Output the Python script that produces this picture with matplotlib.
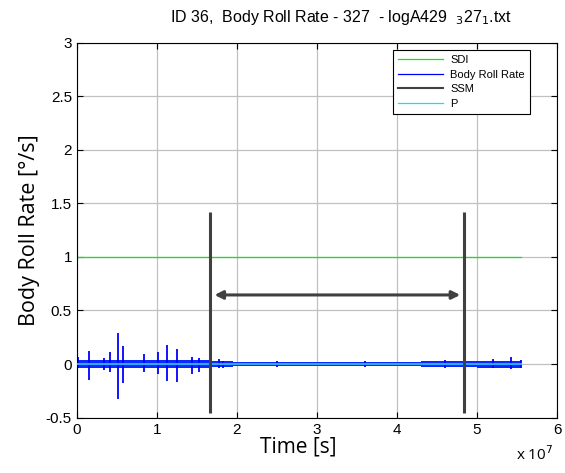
import matplotlib
matplotlib.use("Agg")
import matplotlib.pyplot as plt
import numpy as np

# ---- data ----
t_end = 5.55e7
sdi_level = 1.0
p_level = 0.0
ssm_times = [1.66e7, 4.84e7]
ssm_ymin, ssm_ymax = -0.46, 1.42
arrow_y = 0.645
arrow_x = [1.72e7, 4.79e7]

# spikes of the body roll rate signal: time, top, bottom
spike_t = [0.01e7, 0.15e7, 0.34e7, 0.42e7, 0.51e7, 0.58e7, 0.84e7, 1.01e7, 1.13e7,
           1.25e7, 1.44e7, 1.52e7, 1.77e7, 1.83e7, 2.5e7, 3.6e7, 4.6e7, 5.2e7, 5.43e7, 5.55e7]
spike_top = [0.07, 0.12, 0.06, 0.11, 0.29, 0.17, 0.09, 0.11, 0.18,
             0.14, 0.07, 0.06, 0.045, 0.03, 0.03, 0.03, 0.035, 0.045, 0.07, 0.035]
spike_bot = [-0.04, -0.15, -0.056, -0.07, -0.33, -0.18, -0.07, -0.09, -0.16,
             -0.165, -0.09, -0.07, -0.04, -0.035, -0.03, -0.03, -0.035, -0.035, -0.05, -0.04]

# background noise band: segment edges and half-width
band_edges = [0.0, 1.65e7, 1.95e7, 4.3e7, 5.0e7, 5.55e7]
band_half = [0.035, 0.028, 0.02, 0.025, 0.032]

xticks = [0, 1e7, 2e7, 3e7, 4e7, 5e7, 6e7]
xticklabels = ["0", "1", "2", "3", "4", "5", "6"]
yticks = [-0.5, 0, 0.5, 1, 1.5, 2, 2.5, 3]
yticklabels = ["-0.5", "0", "0.5", "1", "1.5", "2", "2.5", "3"]

plt.rcParams['font.family'] = ['Liberation Sans', 'DejaVu Sans']

fig = plt.figure(figsize=(5.65, 4.73), dpi=100)
ax = fig.add_axes([0.136, 0.117, 0.85, 0.793])

ax.set_xlim(0, 6e7)
ax.set_ylim(-0.5, 3)

ax.grid(True, color='#c0c0c0', linewidth=0.9, linestyle='-')
ax.set_axisbelow(True)

# SDI
ax.plot([0, t_end], [sdi_level, sdi_level], color='#00f000', linewidth=0.9, label='SDI')

# Body roll rate: band + spikes
for i in range(len(band_half)):
    ax.fill_between([band_edges[i], band_edges[i + 1]], -band_half[i], band_half[i],
                    color='#0a28ff', linewidth=0)
ax.vlines(spike_t, spike_bot, spike_top, color='#0000ff', linewidth=1.3)
ax.plot([], [], color='#0000ff', linewidth=0.9, label='Body Roll Rate')

# SSM
ax.vlines(ssm_times, ssm_ymin, ssm_ymax, color='#404040', linewidth=2.2, zorder=5)
ax.plot([], [], color='#404040', linewidth=1.5, label='SSM')
ax.annotate('', xy=(arrow_x[0], arrow_y), xytext=(arrow_x[1], arrow_y),
            arrowprops=dict(arrowstyle='<|-|>', color='#404040', lw=2.2,
                            mutation_scale=12, shrinkA=0, shrinkB=0), zorder=5)

# P
ax.plot([0, t_end], [p_level, p_level], color='#30a8ff', linewidth=1.5, zorder=4)
ax.plot([], [], color='#00e8ff', linewidth=0.9, label='P')

ax.set_xticks(xticks)
ax.set_xticklabels(xticklabels)
ax.set_yticks(yticks)
ax.set_yticklabels(yticklabels)
ax.tick_params(direction='in', top=True, right=True, labelsize=11, length=4, width=0.8)
for s in ax.spines.values():
    s.set_linewidth(0.8)

ax.set_xlabel('Time [s]', fontsize=15, family=['Open Sans', 'DejaVu Sans'])
ax.xaxis.set_label_coords((298 - 77) / 480, -0.05, transform=ax.transAxes)
ax.xaxis.label.set_va('top')
ax.set_ylabel('Body Roll Rate [°/s]', fontsize=15.5, family=['Open Sans', 'DejaVu Sans'])
ax.yaxis.set_label_coords((30 - 77) / 480, 0.5, transform=ax.transAxes)
ax.yaxis.label.set_va('center')
ax.set_title(r'ID 36,  Body Roll Rate - 327  - logA429  $_{3}$27$_{1}$.txt', fontsize=11.5,
             pad=15, x=0.55)

fig.text(0.947, 0.028, r'x 10$^{7}$', fontsize=11, ha='center', family=['Open Sans', 'DejaVu Sans'])

leg = ax.legend(loc='upper right', fontsize=8, frameon=True, fancybox=False,
                edgecolor='black', framealpha=1, borderpad=0.45, labelspacing=0.42,
                handlelength=4.0, handletextpad=0.7, borderaxespad=0)
leg.set_bbox_to_anchor((530 / 565, 1 - 50 / 473), transform=fig.transFigure)
leg.get_frame().set_linewidth(0.8)

fig.savefig('out.png', dpi=100)
